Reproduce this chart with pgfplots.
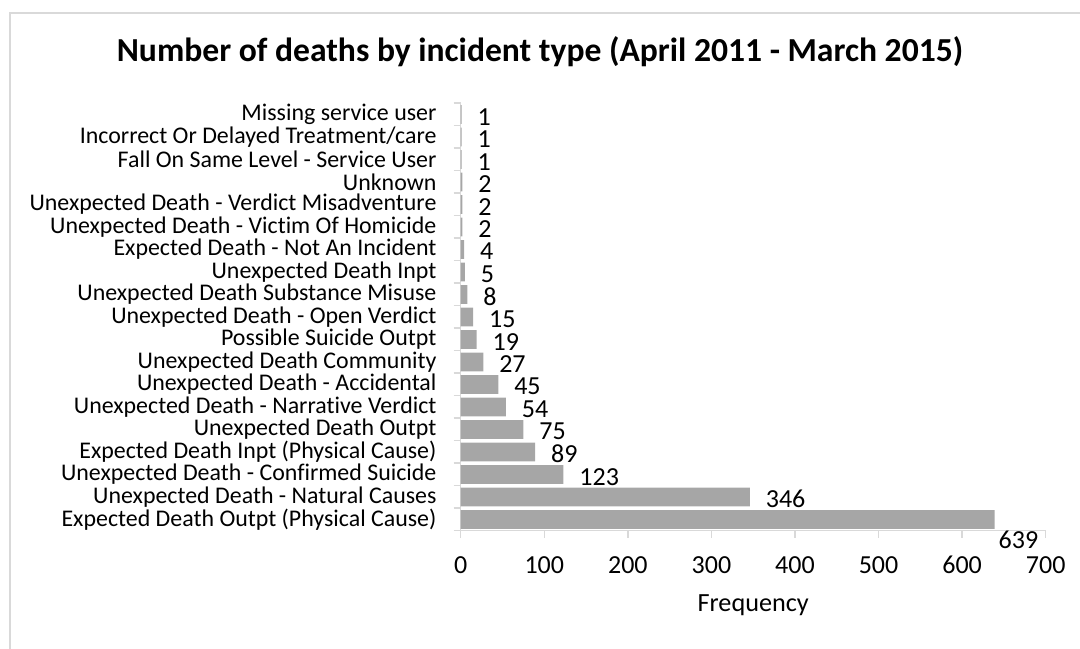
\documentclass[border=0pt]{standalone}
\usepackage{pgfplots}
\pgfplotsset{compat=1.18}
\usepackage{fontspec}
\setmainfont{Carlito}[Ligatures={NoCommon,NoContextual}]
\definecolor{barg}{HTML}{A6A6A6}
\definecolor{axg}{HTML}{D9D9D9}
\begin{document}
\begin{tikzpicture}
\useasboundingbox (0,0) rectangle (540pt,324pt);
\draw[axg, line width=0.8pt] (5pt,-20pt) -- (5pt,317.5pt) -- (560pt,317.5pt);
\node[font=\fontsize{16.8}{19}\selectfont\bfseries] at (270pt,298.3pt) {Number of deaths by incident type (April 2011 - March 2015)};
\begin{axis}[
  at={(230.35pt,58.65pt)}, anchor=south west,
  scale only axis, width=292.5pt, height=213.75pt,
  xmin=0, xmax=700, ymin=-0.5, ymax=18.5,
  axis x line*=bottom, axis y line*=left,
  axis line style={axg, line width=0.75pt},
  xtick={0,100,...,700},
  ytick={0,...,18},
  yticklabels={Expected Death Outpt (Physical Cause),Unexpected Death - Natural Causes,Unexpected Death - Confirmed Suicide,Expected Death Inpt (Physical Cause),Unexpected Death Outpt,Unexpected Death - Narrative Verdict,Unexpected Death - Accidental,Unexpected Death Community,Possible Suicide Outpt,Unexpected Death - Open Verdict,Unexpected Death Substance Misuse,Unexpected Death Inpt,Expected Death - Not An Incident,Unexpected Death - Victim Of Homicide,Unexpected Death - Verdict Misadventure,Unknown,Fall On Same Level - Service User,Incorrect Or Delayed Treatment/care,Missing service user},
  minor ytick={-0.5,0.5,...,18.5},
  tick align=outside,
  every major y tick/.append style={draw=none},
  every minor y tick/.append style={axg, line width=0.75pt},
  minor tick length=3.5pt,
  every major x tick/.append style={axg, line width=0.75pt},
  major tick length=3.5pt,
  /pgf/number format/assume math mode=true,
  yticklabel style={font=\fontsize{11.95}{12}\selectfont, anchor=east, inner sep=0pt, xshift=-8.45pt},
  xticklabel style={font=\fontsize{13}{14}\selectfont, anchor=north, inner sep=0pt, text height=8.3pt, yshift=-9.6pt},
  xlabel={Frequency},
  xlabel style={font=\fontsize{13.1}{14}\selectfont, at={(axis description cs:0.5,0)}, anchor=center, yshift=-37.5pt},
  clip=false,
]
\addplot[xbar, fill=barg, draw=none, bar width=9.35pt] coordinates {
(639,0) (346,1) (123,2) (89,3) (75,4) (54,5) (45,6) (27,7) (19,8) (15,9) (8,10) (5,11) (4,12) (2,13) (2,14) (2,15) (1,16) (1,17) (1,18)};
\addplot[draw=none, mark=none, nodes near coords, point meta=x,
  nodes near coords style={font=\fontsize{13}{14}\selectfont, anchor=west, inner sep=0pt, xshift=7.8pt, yshift=-1.1pt}] coordinates {
(346,1) (123,2) (89,3) (75,4) (54,5) (45,6) (27,7) (19,8) (15,9) (8,10) (5,11) (4,12) (2,13) (2,14) (2,15) (1,16) (1,17) (1,18)};
\addplot[draw=none, mark=none, nodes near coords, point meta=x,
  nodes near coords style={font=\fontsize{13}{14}\selectfont, anchor=west, inner sep=0pt, xshift=1.8pt, yshift=-10.2pt}] coordinates {(639,0)};
\end{axis}
\end{tikzpicture}
\end{document}
